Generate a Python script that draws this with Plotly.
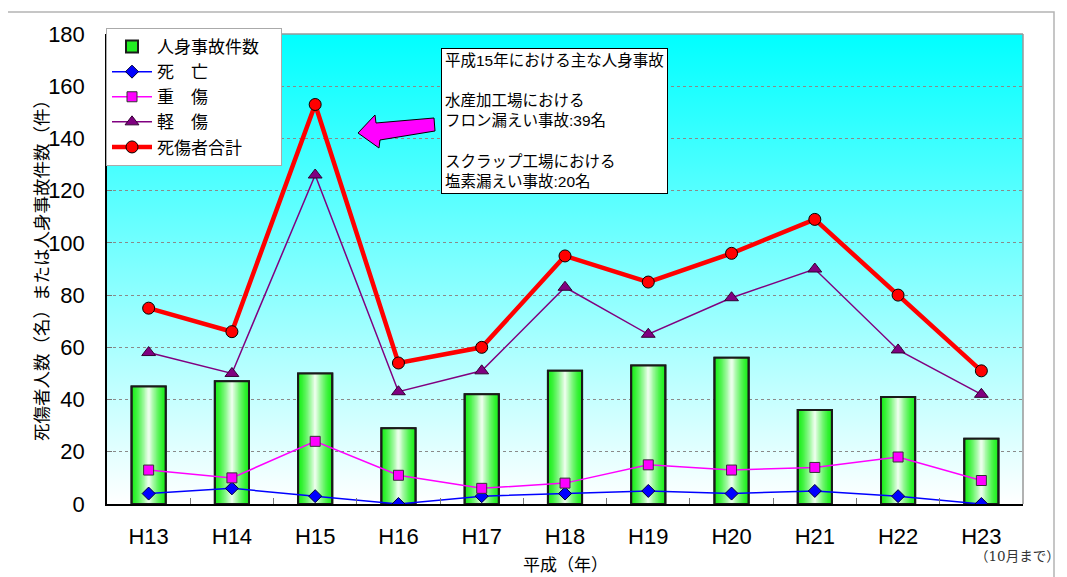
import base64
import plotly.graph_objects as go

# ---------------- data ----------------
years = ["H13", "H14", "H15", "H16", "H17", "H18", "H19", "H20", "H21", "H22", "H23"]
accidents = [45, 47, 50, 29, 42, 51, 53, 56, 36, 41, 25]      # 人身事故件数
deaths = [4, 6, 3, 0, 3, 4, 5, 4, 5, 3, 0]                     # 死亡
serious = [13, 10, 24, 11, 6, 8, 15, 13, 14, 18, 9]            # 重傷
minor = [58, 50, 126, 43, 51, 83, 65, 79, 90, 59, 42]          # 軽傷
total = [75, 66, 153, 54, 60, 95, 85, 96, 109, 80, 51]         # 死傷者合計

# ---------------- geometry helpers (styling only) ----------------
OFF = 8                      # page body margin
W, H = 1067 - OFF, 577 - OFF
L, R, T, B = 107, 1023, 34, 504   # plot area in screenshot pixels


def px(x):
    return (x - L) / (R - L)


def py(y):
    return (B - y) / (B - T)


JP = "Liberation Sans, Noto Sans CJK JP, sans-serif"
CJK = "Noto Sans CJK JP, sans-serif"

fig = go.Figure()

# bars with a horizontal green->white gradient built from overlaid bars
BAR_W = 0.41
GREEN = (0x1E, 0xF0, 0x1E)
N = 14
fig.add_trace(go.Bar(x=years, y=accidents, name="人身事故件数\u3000", width=BAR_W,
                     marker=dict(color="#22EE22", line=dict(color="#1a1a1a", width=2)),
                     showlegend=True))
for k in range(1, N):
    t = k / N
    wt = t ** 1.4
    c = tuple(int(round(g * (1 - wt) + 255 * wt)) for g in GREEN)
    fig.add_trace(go.Bar(x=years, y=accidents, width=BAR_W * (1 - t),
                         marker=dict(color="rgb(%d,%d,%d)" % c, line=dict(width=0)),
                         showlegend=False, hoverinfo="skip"))
fig.add_trace(go.Bar(x=years, y=accidents, width=BAR_W,
                     marker=dict(color="rgba(0,0,0,0)", line=dict(color="#1a1a1a", width=2)),
                     showlegend=False, hoverinfo="skip"))

fig.add_trace(go.Scatter(x=years, y=deaths, name="死　亡", mode="lines+markers",
                         line=dict(color="#0000FF", width=1.5),
                         marker=dict(symbol="diamond", size=10, color="#0000FF",
                                     line=dict(color="#000033", width=1))))
fig.add_trace(go.Scatter(x=years, y=serious, name="重　傷", mode="lines+markers",
                         line=dict(color="#FF00FF", width=1.5),
                         marker=dict(symbol="square", size=10, color="#FF00FF",
                                     line=dict(color="#333333", width=1))))
fig.add_trace(go.Scatter(x=years, y=minor, name="軽　傷", mode="lines+markers",
                         line=dict(color="#800080", width=1.5),
                         marker=dict(symbol="triangle-up", size=12, color="#800080",
                                     line=dict(color="#330033", width=1))))
fig.add_trace(go.Scatter(x=years, y=total, name="死傷者合計", mode="lines+markers",
                         line=dict(color="#FF0000", width=4.5),
                         marker=dict(symbol="circle", size=12, color="#FF0000",
                                     line=dict(color="#000000", width=1))))

# background gradient
svg = ('<svg xmlns="http://www.w3.org/2000/svg" width="100" height="100" '
       'preserveAspectRatio="none"><defs><linearGradient id="g" x1="0" y1="0" x2="0" y2="1">'
       '<stop offset="0" stop-color="#00FFFF"/><stop offset="1" stop-color="#FFFFFF"/>'
       '</linearGradient></defs><rect width="100" height="100" fill="url(#g)"/></svg>')
src = "data:image/svg+xml;base64," + base64.b64encode(svg.encode()).decode()
fig.add_layout_image(dict(source=src, xref="paper", yref="paper", x=0, y=1,
                          sizex=1, sizey=1, sizing="stretch", layer="below",
                          xanchor="left", yanchor="top"))

shapes = [
    # outer frame
    dict(type="rect", xref="paper", yref="paper", x0=px(7), x1=px(1054), y0=py(590), y1=py(12),
         line=dict(color="#b4b4b4", width=1.5), fillcolor="rgba(0,0,0,0)", layer="below"),
    # plot area top/right border
    dict(type="line", xref="paper", yref="paper", x0=0, x1=1, y0=1, y1=1,
         line=dict(color="#999999", width=1.5)),
    dict(type="line", xref="paper", yref="paper", x0=1, x1=1, y0=0, y1=1,
         line=dict(color="#999999", width=1.5)),
]
arrow_pts = [(358, 133), (375, 115), (376, 123), (434, 118), (435, 131), (380, 140), (379, 148)]
path = "M " + " L ".join("%.5f,%.5f" % (px(x), py(y)) for x, y in arrow_pts) + " Z"
shapes.append(dict(type="path", xref="paper", yref="paper", path=path,
                   fillcolor="#FF00FF", line=dict(color="#000000", width=1)))

note = ("平成15年における主な人身事故<br><br>水産加工場における<br>フロン漏えい事故:39名"
        "<br><br>スクラップ工場における<br>塩素漏えい事故:20名")

annotations = [
    dict(text=note, xref="paper", yref="paper", x=px(441), y=py(48), xanchor="left",
         yanchor="top", align="left", showarrow=False, bgcolor="#FFFFFF",
         bordercolor="#000000", borderwidth=1, borderpad=3,
         font=dict(family=JP, size=15.5, color="#000000")),
    dict(text="死傷者人数（名）または人身事故件数（件）", xref="paper", yref="paper",
         x=px(40), y=py(266), xanchor="center", yanchor="middle", textangle=-90,
         showarrow=False, font=dict(family=CJK, size=17.5, color="#000000")),
    dict(text="平成（年）", xref="paper", yref="paper", x=px(565), y=py(563),
         xanchor="center", yanchor="middle", showarrow=False,
         font=dict(family=CJK, size=17, color="#000000")),
    dict(text="（10月まで）", xref="paper", yref="paper", x=px(1062), y=py(556),
         xanchor="right", yanchor="middle", showarrow=False,
         font=dict(family="DejaVu Serif, Noto Sans CJK JP, serif", size=13.5, color="#333333")),
]

fig.update_layout(
    width=W, height=H,
    margin=dict(l=L - OFF, r=W - (R - OFF), t=T - OFF, b=H - (B - OFF), pad=0),
    paper_bgcolor="#FFFFFF", plot_bgcolor="rgba(0,0,0,0)",
    barmode="overlay",
    showlegend=True,
    legend=dict(x=px(106), y=py(28), xanchor="left", yanchor="top",
                bgcolor="#FFFFFF", bordercolor="#aaaaaa", borderwidth=1,
                font=dict(family=CJK, size=17, color="#000000"),
                itemwidth=40, tracegroupgap=0, traceorder="normal"),
    shapes=shapes,
    annotations=annotations,
    xaxis=dict(type="category", range=[-0.5, len(years) - 0.5], autorange=False,
               showgrid=False, showline=True, linecolor="#000000", linewidth=1.5,
               ticks="inside", tickson="boundaries", ticklen=6, tickcolor="#777777",
               tickfont=dict(family="Liberation Sans, Arial, sans-serif", size=22, color="#000000"),
               ticklabelstandoff=12, zeroline=False),
    yaxis=dict(range=[0, 180], dtick=20, showgrid=True, gridcolor="#8a8a8a", griddash="dot",
               gridwidth=1, showline=True, linecolor="#000000", linewidth=1.5,
               ticks="inside", ticklen=5, tickcolor="#777777",
               tickfont=dict(family="Liberation Sans, Arial, sans-serif", size=22, color="#000000"),
               ticklabelstandoff=16, zeroline=False),
)

fig.write_html("out.html")
